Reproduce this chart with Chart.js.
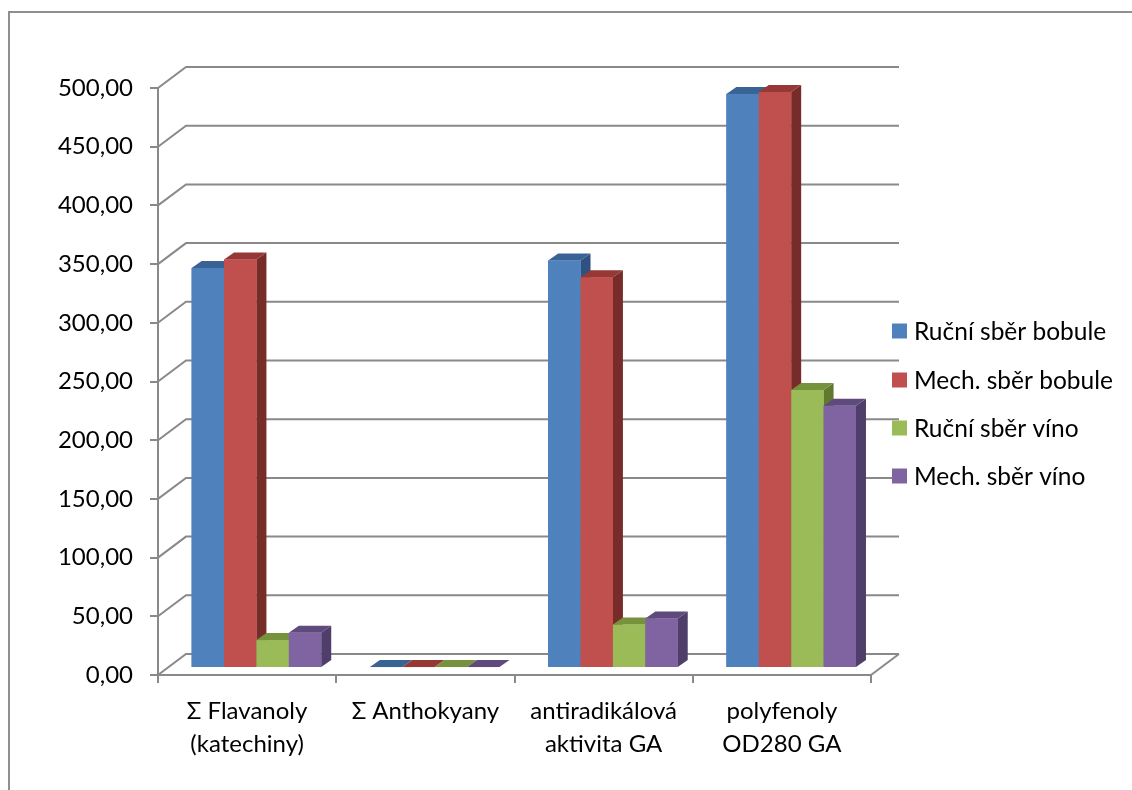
<html>
<head>
  <meta charset="UTF-8">
  <script src="https://cdn.jsdelivr.net/npm/chart.js@4.4.0/dist/chart.umd.min.js"></script>
  <style>
    body { margin: 0; background: #fff; }
  </style>
</head>
<body>
  <canvas id="chart" width="1132" height="790"></canvas>
  <script>
    // data
    const categories = [['Σ Flavanoly', '(katechiny)'], 'Σ Anthokyany', ['antiradikálová', 'aktivita GA'], ['polyfenoly', 'OD280 GA']];
    const seriesNames = ['Ruční sběr bobule', 'Mech. sběr bobule', 'Ruční sběr víno', 'Mech. sběr víno'];
    const rucniBobule = [340.7, 0.8, 347.0, 489.0];
    const mechBobule = [348.0, 0.8, 332.8, 490.7];
    const rucniVino = [23.8, 0.8, 37.1, 236.8];
    const mechVino = [30.0, 0.8, 42.2, 223.3];
    const yMin = 0, yMax = 500, yStep = 50;

    // colours: front, top, side
    const frontCols = ['#4F81BD', '#C0504D', '#9BBB59', '#8064A2'];
    const topCols = ['#3A6395', '#953836', '#76923C', '#5F4A7D'];
    const sideCols = ['#2F5180', '#772C2A', '#61792F', '#4F3E69'];

    const gridCol = '#898989';
    const WALL_DX = 28, WALL_DY = 21;     // depth of the walls
    const OFF_X = 9.3, OFF_Y = 7;         // bars front plane
    const BAR_DX = 10, BAR_DY = 7;        // bar depth

    const wallPlugin = {
      id: 'walls',
      beforeDatasetsDraw(chart) {
        const ctx = chart.ctx, y = chart.scales.y, x = chart.scales.x;
        const left = x.left, right = x.right;
        ctx.save();
        ctx.strokeStyle = gridCol;
        ctx.lineWidth = 2;
        y.ticks.forEach(t => {
          const py = y.getPixelForValue(t.value);
          ctx.beginPath();
          ctx.moveTo(left, py);
          ctx.lineTo(left + WALL_DX, py - WALL_DY);
          ctx.lineTo(right + WALL_DX, py - WALL_DY);
          ctx.stroke();
        });
        // floor right edge
        const p0 = y.getPixelForValue(0);
        ctx.beginPath();
        ctx.moveTo(right, p0);
        ctx.lineTo(right + WALL_DX, p0 - WALL_DY);
        ctx.stroke();
        ctx.restore();
        // shift bars to their depth
        ctx.save();
        ctx.translate(OFF_X, -OFF_Y);
      },
      afterDatasetsDraw(chart) {
        const ctx = chart.ctx;
        const n = chart.data.labels.length;
        const metas = chart.data.datasets.map((d, i) => chart.getDatasetMeta(i));
        for (let c = 0; c < n; c++) {
          metas.forEach((meta, i) => {
            const el = meta.data[c];
            const l = el.x - el.width / 2, r = el.x + el.width / 2;
            const t = el.y, b = el.base;
            // side
            ctx.fillStyle = sideCols[i];
            ctx.beginPath();
            ctx.moveTo(r, t); ctx.lineTo(r + BAR_DX, t - BAR_DY);
            ctx.lineTo(r + BAR_DX, b - BAR_DY); ctx.lineTo(r, b);
            ctx.closePath(); ctx.fill();
            // top
            ctx.fillStyle = topCols[i];
            ctx.beginPath();
            ctx.moveTo(l, t); ctx.lineTo(l + BAR_DX, t - BAR_DY);
            ctx.lineTo(r + BAR_DX, t - BAR_DY); ctx.lineTo(r, t);
            ctx.closePath(); ctx.fill();
            // front
            ctx.fillStyle = frontCols[i];
            ctx.fillRect(l, t, r - l, b - t);
          });
        }
        ctx.restore();
      },
      afterDraw(chart) {
        const ctx = chart.ctx;
        ctx.save();
        // outer frame
        ctx.strokeStyle = '#8f8f8f';
        ctx.lineWidth = 2;
        ctx.beginPath();
        ctx.moveTo(9, 790); ctx.lineTo(9, 12); ctx.lineTo(1132, 12);
        ctx.stroke();
        // legend
        ctx.font = '24.5px Lato';
        ctx.textBaseline = 'middle';
        const rows = [331, 380, 428, 476];
        chart.data.datasets.forEach((d, i) => {
          ctx.fillStyle = frontCols[i];
          ctx.fillRect(892, rows[i] - 7.5, 15, 15);
          ctx.fillStyle = '#000';
          ctx.fillText(d.label, 914, rows[i] + 1);
        });
        ctx.restore();
      }
    };

    const allSeries = [rucniBobule, mechBobule, rucniVino, mechVino];

    Chart.defaults.font.family = 'Lato';
    Chart.defaults.font.size = 24;
    Chart.defaults.color = '#000';

    new Chart(document.getElementById('chart').getContext('2d'), {
      type: 'bar',
      data: {
        labels: categories,
        datasets: allSeries.map((s, i) => ({
          label: seriesNames[i],
          data: s,
          backgroundColor: frontCols[i],
          borderWidth: 0,
          categoryPercentage: 0.727,
          barPercentage: 1,
          clip: false
        }))
      },
      options: {
        responsive: false,
        animation: false,
        layout: { padding: { top: 88, right: 261, left: 0, bottom: 0 } },
        plugins: { legend: { display: false }, tooltip: { enabled: false } },
        scales: {
          x: {
            offset: true,
            grid: { offset: true, drawOnChartArea: false, color: gridCol, lineWidth: 2, tickLength: 8 },
            border: { display: true, color: gridCol, width: 2 },
            ticks: { padding: 12, maxRotation: 0, autoSkip: false, font: { size: 24, lineHeight: 1.38 } },
            afterFit: s => { s.height = 115; }
          },
          y: {
            min: yMin, max: yMax,
            grid: { drawOnChartArea: false, color: gridCol, lineWidth: 2, tickLength: 8 },
            border: { display: true, color: gridCol, width: 2 },
            ticks: {
              stepSize: yStep, padding: 17,
              callback: v => v.toFixed(2).replace('.', ',')
            },
            afterFit: s => { s.width = 158; }
          }
        }
      },
      plugins: [wallPlugin]
    });
  </script>
</body>
</html>
